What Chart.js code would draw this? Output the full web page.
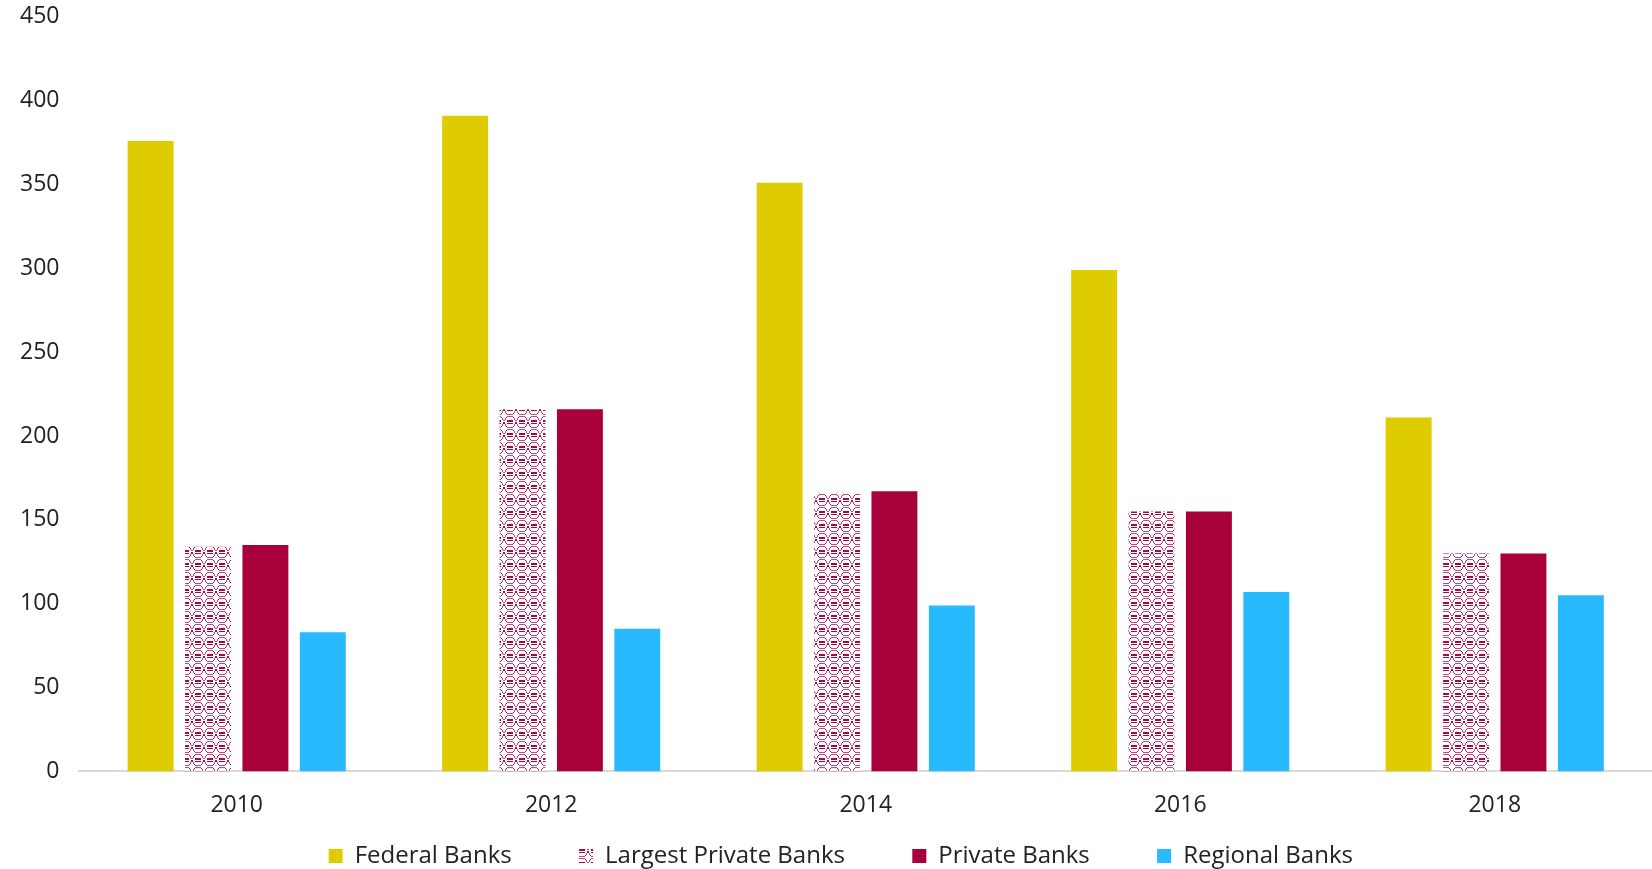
<!DOCTYPE html>
<html>
<head>
<meta charset="utf-8">
<script src="https://cdn.jsdelivr.net/npm/chart.js@4"></script>
<style>
  html, body { margin: 0; padding: 0; background: #fff; }
  #wrap { width: 1652px; height: 869px; }
</style>
</head>
<body>
<div id="wrap"><canvas id="chart"></canvas></div>
<script>
const years = ['2010', '2012', '2014', '2016', '2018'];
const federalBanks = [376, 391, 351, 299, 211];
const largestPrivateBanks = [134, 216, 166, 155, 130];
const privateBanks = [135, 216, 167, 155, 130];
const regionalBanks = [83, 85, 99, 107, 105];
const yTicks = [0, 50, 100, 150, 200, 250, 300, 350, 400, 450];

// woven crimson tile (ovals with "=" bars) for the "largest private" bars
function weavePattern() {
  const c = document.createElement('canvas');
  c.width = 12; c.height = 13;
  const g = c.getContext('2d');
  g.fillStyle = '#fff';
  g.fillRect(0, 0, 12, 13);
  const dark = '#a8063f', mid = '#c8457a';
  const px = (col, x, y, w = 1, h = 1) => { g.fillStyle = col; g.fillRect(x, y, w, h); };
  // oval outline
  px(mid, 3, 0, 6, 1);
  px(dark, 2, 1); px(dark, 9, 1);
  px(mid, 1, 2, 1, 2); px(mid, 10, 2, 1, 2);
  px(mid, 1, 8, 1, 2); px(mid, 10, 8, 1, 2);
  px(dark, 2, 10); px(dark, 9, 10);
  px(mid, 3, 11, 6, 1);
  // double bars inside and between the ovals
  px(dark, 3, 4, 6, 2);
  px(dark, 3, 7, 6, 1);
  px(mid, 11, 4, 1, 1); px(mid, 0, 4, 1, 1);
  px(dark, 11, 6, 1, 2); px(dark, 0, 6, 1, 2);
  return g.createPattern(c, 'repeat');
}

const font = "'Open Sans', 'Noto Sans', sans-serif";
const gap = ' '.repeat(10);
const tail = ' '.repeat(8);

new Chart(document.getElementById('chart'), {
  type: 'bar',
  data: {
    labels: years,
    datasets: [
      { label: 'Federal Banks', data: federalBanks, backgroundColor: '#dfcc00' },
      { label: 'Largest Private Banks', data: largestPrivateBanks, backgroundColor: weavePattern() },
      { label: 'Private Banks', data: privateBanks, backgroundColor: '#a8003b' },
      { label: 'Regional Banks', data: regionalBanks, backgroundColor: '#29b9ff' }
    ]
  },
  options: {
    responsive: true,
    maintainAspectRatio: false,
    animation: false,
    datasets: { bar: { categoryPercentage: 0.73, barPercentage: 0.8 } },
    layout: { padding: { left: 17, right: 0, top: 0, bottom: -9 } },
    plugins: {
      tooltip: { enabled: false },
      legend: {
        position: 'bottom',
        fullSize: false,
        labels: {
          color: '#222',
          font: { family: font, size: 24 },
          boxWidth: 14,
          boxHeight: 14,
          padding: 5,
          generateLabels: chart => {
            const items = Chart.defaults.plugins.legend.labels.generateLabels(chart);
            items.forEach((it, i) => { it.text += i < items.length - 1 ? gap : tail; });
            return items;
          }
        }
      }
    },
    scales: {
      x: {
        grid: { display: false, drawTicks: false },
        border: { display: true, color: '#d9d9d9', width: 2 },
        ticks: { color: '#222', font: { family: font, size: 23 }, padding: 20 }
      },
      y: {
        min: 0,
        max: 450,
        afterBuildTicks: axis => { axis.ticks = yTicks.map(v => ({ value: v })); },
        grid: { display: false, drawTicks: true, tickLength: 17 },
        border: { display: false },
        ticks: { color: '#222', font: { family: font, size: 23 }, padding: 3 }
      }
    }
  }
});
</script>
</body>
</html>
